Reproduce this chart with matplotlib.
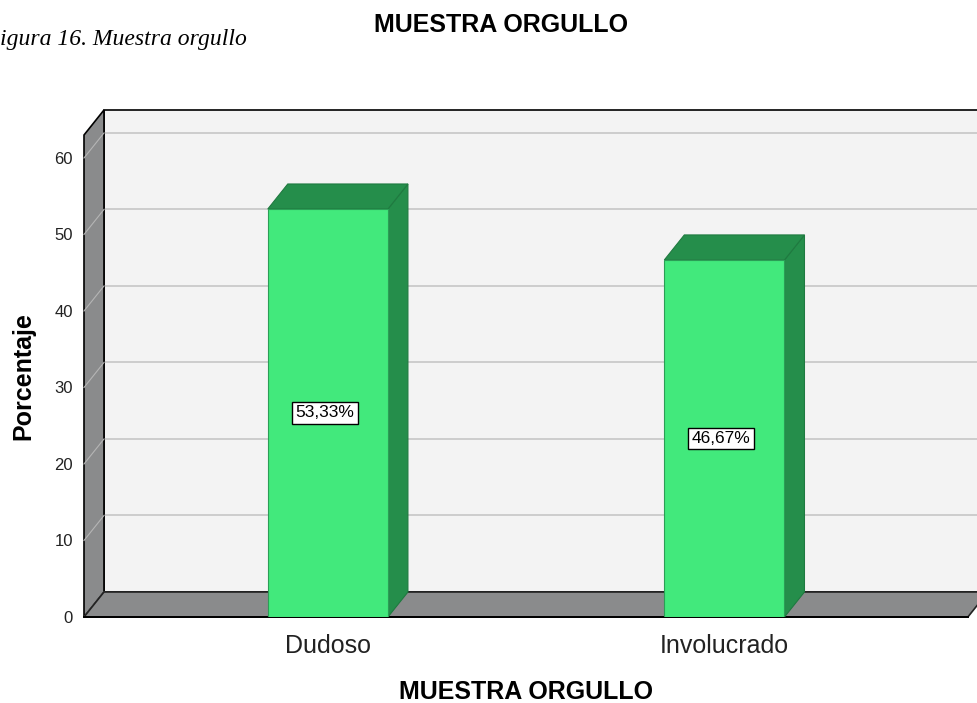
import matplotlib
matplotlib.use("Agg")
import matplotlib.pyplot as plt
from matplotlib.patches import Polygon

# data
categories = ["Dudoso", "Involucrado"]
percentages = [53.33, 46.67]
value_labels = ["53,33%", "46,67%"]
y_ticks = [0, 10, 20, 30, 40, 50, 60]

# pseudo-3D geometry (data units)
X_LEFT = -0.615      # front left edge of the chart box
X_RIGHT = 1.614      # front right edge of the floor
DX, DY = 0.0504, 3.27  # depth offset
Y_TOP = 63.0
BAR_W = 0.303

FRONT = "#42e97c"
DARK = "#258e4b"
WALL = "#8a8b8c"
BACK = "#f3f3f3"

plt.rcParams["font.family"] = ["Liberation Sans", "DejaVu Sans"]

fig = plt.figure(figsize=(9.77, 7.03), dpi=100)
ax = fig.add_axes([84 / 977, 86 / 703, 893 / 977, 507 / 703])
ax.set_xlim(X_LEFT, 1.637)
ax.set_ylim(0, 66.27)
for s in ax.spines.values():
    s.set_visible(False)

# back wall
ax.add_patch(Polygon([(X_LEFT + DX, DY), (X_RIGHT + DX, DY), (X_RIGHT + DX, Y_TOP + DY),
                      (X_LEFT + DX, Y_TOP + DY)], closed=True, fc=BACK, ec="black",
                     lw=1.2, zorder=0, clip_on=False))
for v in y_ticks[1:]:
    ax.plot([X_LEFT + DX, X_RIGHT + DX], [v + DY, v + DY], color="#cccccc", lw=1.4,
            zorder=1, clip_on=False)

# left wall
ax.add_patch(Polygon([(X_LEFT, 0), (X_LEFT + DX, DY), (X_LEFT + DX, Y_TOP + DY), (X_LEFT, Y_TOP)],
                     closed=True, fc=WALL, ec="black", lw=1.2, zorder=2, clip_on=False))
for v in y_ticks:
    ax.plot([X_LEFT, X_LEFT + DX], [v, v + DY], color="#b5b5b5", lw=0.8, zorder=2.5,
            clip_on=False)

# floor
ax.add_patch(Polygon([(X_LEFT, 0), (X_RIGHT, 0), (X_RIGHT + DX, DY), (X_LEFT + DX, DY)],
                     closed=True, fc=WALL, ec="#222222", lw=1.2, zorder=3, clip_on=False))
ax.plot([X_LEFT, X_RIGHT], [0, 0], color="black", lw=1.4, zorder=3.2, clip_on=False)

# bars
xs = list(range(len(categories)))
ax.bar(xs, percentages, width=BAR_W, color=FRONT, edgecolor="#2b9e56", lw=0.8, zorder=5)
for x, v in zip(xs, percentages):
    xl, xr = x - BAR_W / 2, x + BAR_W / 2
    ax.add_patch(Polygon([(xr, 0), (xr + DX, DY), (xr + DX, v + DY), (xr, v)], closed=True,
                         fc=DARK, ec="#1f7a40", lw=0.8, zorder=4))
    ax.add_patch(Polygon([(xl, v), (xr, v), (xr + DX, v + DY), (xl + DX, v + DY)], closed=True,
                         fc=DARK, ec="#1f7a40", lw=0.8, zorder=4))

for x, v, lab in zip(xs, percentages, value_labels):
    ax.text(x - 0.008, v / 2, lab, ha="center", va="center", fontsize=12.5, zorder=6,
            bbox=dict(boxstyle="square,pad=0.2", fc="white", ec="black", lw=1.0))

ax.set_yticks(y_ticks)
ax.set_yticklabels([str(t) for t in y_ticks], fontsize=12, color="#222222")
ax.set_xticks(xs)
ax.set_xticklabels(categories, fontsize=18, color="#222222")
ax.tick_params(axis="y", length=0, pad=8)
ax.tick_params(axis="x", length=0, pad=12)

ax.set_xlabel("MUESTRA ORGULLO", fontsize=18, fontweight="bold")
ax.xaxis.set_label_coords((526 - 84) / 893, (617 - 680) / 507)
ax.set_ylabel("Porcentaje", fontsize=18, fontweight="bold")
ax.yaxis.set_label_coords((35 - 84) / 893, (617 - 376) / 507)

fig.text(501 / 977, 1 - 25 / 703, "MUESTRA ORGULLO", ha="center", va="center",
         fontsize=18, fontweight="bold")
fig.text(0, 1 - 40 / 703, "igura 16. Muestra orgullo", ha="left", va="center",
         fontsize=17, style="italic", family=["Liberation Serif", "DejaVu Serif"])

fig.savefig("out.png", dpi=100)
